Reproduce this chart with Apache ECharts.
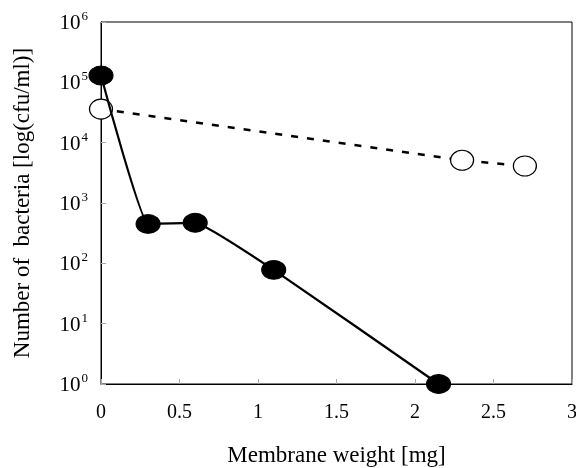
<!DOCTYPE html>
<html>
<head>
<meta charset="utf-8">
<script src="https://cdn.jsdelivr.net/npm/echarts@6/dist/echarts.min.js"></script>
<style>
html, body { margin: 0; padding: 0; background: #fff; }
#chartWrapper { width: 576px; height: 468px; }
</style>
</head>
<body>
<div id="chartWrapper"></div>
<script>
// membrane weight [mg] and bacteria count [cfu/ml]
let filledX = [0, 0.3, 0.6, 1.1, 2.15];
let filledY = [130000, 450, 470, 78, 1];
let openX = [0, 2.3, 2.7];
let openY = [36000, 5100, 4100];
let xTicks = [0, 0.5, 1, 1.5, 2, 2.5, 3];

function pairs(xs, ys) {
    let out = [];
    for (let i = 0; i < xs.length; i++) {
        out.push([xs[i], ys[i]]);
    }
    return out;
}

let myChart = echarts.init(document.getElementById('chartWrapper'));
let serif = '"Liberation Serif", "DejaVu Serif", serif';

let option = {
    animation: false,
    grid: {
        left: 101,
        right: 4,
        top: 22,
        bottom: 84,
        containLabel: false,
        outerBoundsMode: 'none',
        show: true,
        borderColor: '#000',
        borderWidth: 1
    },
    xAxis: {
        type: 'value',
        min: xTicks[0],
        max: xTicks[xTicks.length - 1],
        interval: 0.5,
        name: 'Membrane weight [mg]',
        nameLocation: 'middle',
        nameGap: 60,
        nameTextStyle: { fontFamily: serif, fontSize: 23, color: '#000' },
        axisLine: { lineStyle: { color: '#000', width: 1 } },
        axisTick: { inside: true, length: 5, lineStyle: { color: '#aaa' } },
        axisLabel: { fontFamily: serif, fontSize: 20, color: '#000', margin: 19 },
        splitLine: { show: false }
    },
    yAxis: {
        type: 'log',
        logBase: 10,
        min: 1,
        max: 1000000,
        name: 'Number of  bacteria [log(cfu/ml)]',
        nameLocation: 'middle',
        nameGap: 67,
        nameTextStyle: { fontFamily: serif, fontSize: 23, color: '#000' },
        axisLine: { lineStyle: { color: '#000', width: 1 } },
        axisTick: { inside: true, length: 5, lineStyle: { color: '#aaa' } },
        axisLabel: {
            margin: 13,
            formatter: function (v) {
                let p = Math.round(Math.log10(v));
                return '{b|10}{s|' + p + '}';
            },
            rich: {
                b: { fontFamily: serif, fontSize: 21, color: '#000', verticalAlign: 'bottom' },
                s: { fontFamily: serif, fontSize: 13, color: '#000', verticalAlign: 'top', padding: [0, 0, 11, 1] }
            }
        },
        splitLine: { show: false }
    },
    series: [
        {
            type: 'line',
            data: pairs(openX, openY),
            symbol: 'circle',
            symbolSize: [23, 20],
            itemStyle: { color: '#fff', borderColor: '#000', borderWidth: 1.2 },
            lineStyle: { color: '#000', width: 2.5, type: [7, 9] },
            z: 2
        },
        {
            type: 'line',
            data: pairs(filledX, filledY),
            smooth: 0.1,
            symbol: 'circle',
            symbolSize: [24, 19],
            itemStyle: { color: '#000', borderColor: '#000' },
            lineStyle: { color: '#000', width: 2.2 },
            z: 3
        }
    ]
};

myChart.setOption(option);
</script>
</body>
</html>
